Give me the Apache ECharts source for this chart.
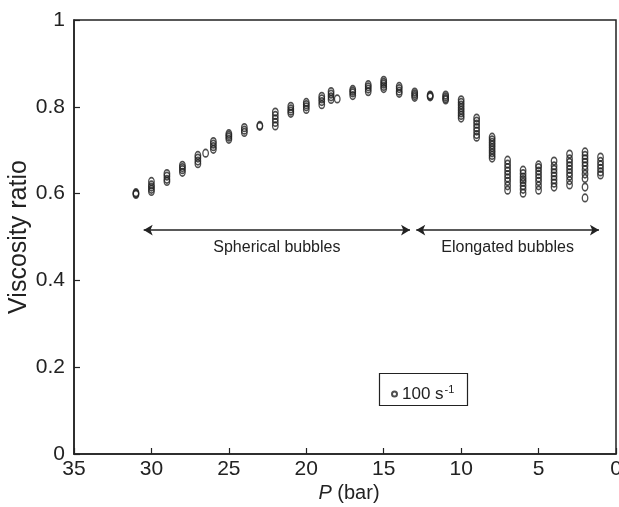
<!DOCTYPE html>
<html>
<head>
<meta charset="utf-8">
<script src="https://cdn.jsdelivr.net/npm/echarts@6/dist/echarts.min.js"></script>
<style>
  html, body { margin: 0; padding: 0; background: #fff; }
  #chart { width: 619px; height: 507px; }
</style>
</head>
<body>
<div id="chart"></div>
<script>
// Pressure (bar) at which each group of measurements was taken
const pressure = [31, 30, 29, 28, 27, 26.5, 26, 25, 24, 23, 22, 21, 20, 19, 18.4, 18,
                  17, 16, 15, 14, 13, 12, 11, 10, 9, 8, 7, 6, 5, 4, 3, 2, 1];

// Viscosity ratio readings at each pressure (shear rate 100 s^-1)
const ratio = [
  [0.598, 0.600, 0.602],
  [0.605, 0.610, 0.615, 0.620, 0.628],
  [0.628, 0.633, 0.640, 0.646],
  [0.649, 0.655, 0.660, 0.665],
  [0.669, 0.675, 0.682, 0.688],
  [0.693],
  [0.702, 0.708, 0.714, 0.720],
  [0.725, 0.730, 0.734, 0.738],
  [0.741, 0.746, 0.752],
  [0.755, 0.757],
  [0.756, 0.764, 0.772, 0.780, 0.788],
  [0.785, 0.790, 0.795, 0.801],
  [0.794, 0.800, 0.805, 0.810],
  [0.805, 0.812, 0.818, 0.824],
  [0.817, 0.823, 0.829, 0.835],
  [0.818],
  [0.826, 0.832, 0.836, 0.840],
  [0.835, 0.841, 0.846, 0.851],
  [0.842, 0.847, 0.852, 0.856, 0.861],
  [0.831, 0.836, 0.842, 0.847],
  [0.822, 0.826, 0.830, 0.834],
  [0.823, 0.825, 0.827],
  [0.816, 0.819, 0.823, 0.827],
  [0.774, 0.780, 0.786, 0.792, 0.798, 0.804, 0.810, 0.816],
  [0.730, 0.736, 0.744, 0.752, 0.760, 0.767, 0.774],
  [0.682, 0.688, 0.694, 0.700, 0.706, 0.712, 0.718, 0.724, 0.730],
  [0.608, 0.618, 0.628, 0.636, 0.644, 0.652, 0.660, 0.668, 0.677],
  [0.601, 0.610, 0.618, 0.626, 0.632, 0.638, 0.646, 0.654],
  [0.608, 0.618, 0.628, 0.636, 0.644, 0.652, 0.660, 0.666],
  [0.615, 0.624, 0.632, 0.640, 0.648, 0.656, 0.664, 0.675],
  [0.620, 0.630, 0.640, 0.648, 0.656, 0.664, 0.672, 0.680, 0.691],
  [0.590, 0.615, 0.635, 0.645, 0.655, 0.664, 0.672, 0.680, 0.688, 0.696],
  [0.643, 0.650, 0.658, 0.666, 0.674, 0.684]
];

// Regime annotations: [from P, to P, ratio level, label]
const regimes = [
  [30.5, 13.3, 0.516, 'Spherical bubbles'],
  [12.9, 1.1, 0.516, 'Elongated bubbles']
];

const seriesName = '100 s-1';

const points = [];
pressure.forEach((p, i) => ratio[i].forEach(v => points.push([p, v])));

const ink = '#222';
const font = '"Liberation Sans", Arial, Helvetica, sans-serif';

const chart = echarts.init(document.getElementById('chart'), null, { renderer: 'canvas' });

chart.setOption({
  animation: false,
  backgroundColor: '#fff',
  textStyle: { fontFamily: font, color: ink },
  grid: {
    left: 74, right: 3, top: 20, bottom: 53,
    containLabel: false,
    outerBoundsMode: 'none',
    show: true, borderColor: ink, borderWidth: 1.5, backgroundColor: 'transparent'
  },
  xAxis: {
    type: 'value',
    min: 0, max: 35, interval: 5,
    inverse: true,
    position: 'bottom',
    name: '{i|P} (bar)',
    nameLocation: 'middle',
    nameGap: 29,
    nameMoveOverlap: false,
    nameTextStyle: {
      fontSize: 20, color: ink, fontFamily: font, padding: [0, 0, 0, 8],
      rich: { i: { fontStyle: 'italic', fontSize: 20, fontFamily: font, color: ink } }
    },
    axisLine: { onZero: false, lineStyle: { color: ink, width: 1.5 } },
    axisTick: { inside: true, length: 6, lineStyle: { color: ink, width: 1.2 } },
    axisLabel: { fontSize: 21, color: ink, margin: 5, fontFamily: font },
    splitLine: { show: false }
  },
  yAxis: {
    type: 'value',
    min: 0, max: 1, interval: 0.2,
    position: 'left',
    name: 'Viscosity ratio',
    nameLocation: 'middle',
    nameGap: 42,
    nameMoveOverlap: false,
    nameTextStyle: { fontSize: 25, color: ink, fontFamily: font },
    axisLine: { onZero: false, lineStyle: { color: ink, width: 1.5 } },
    axisTick: { inside: true, length: 6, lineStyle: { color: ink, width: 1.2 } },
    axisLabel: { fontSize: 21, color: ink, margin: 9, fontFamily: font },
    splitLine: { show: false }
  },
  legend: {
    left: 386, top: 379,
    itemWidth: 5, itemHeight: 8, itemGap: 4,
    icon: 'circle',
    data: [seriesName],
    formatter: () => '100 s{sup|-1}',
    textStyle: {
      fontSize: 17, color: ink, fontFamily: font,
      rich: { sup: { fontSize: 11, verticalAlign: 'top', padding: [0, 0, 9, 1], fontFamily: font, color: ink } }
    }
  },
  graphic: [{
    type: 'rect',
    shape: { x: 379.5, y: 373.5, width: 88, height: 32 },
    style: { fill: 'none', stroke: ink, lineWidth: 1.2 },
    silent: true
  }],
  series: [{
    name: seriesName,
    type: 'scatter',
    symbol: 'circle',
    symbolSize: [5.5, 7.5],
    itemStyle: { color: 'rgba(255,255,255,0)', borderColor: '#222', borderWidth: 1.5 },
    data: points,
    markLine: {
      silent: true,
      symbol: ['arrow', 'arrow'],
      symbolSize: [8, 9],
      lineStyle: { color: ink, width: 1.5, type: 'solid' },
      label: {
        show: true,
        position: 'insideMiddleBottom',
        distance: 10,
        fontSize: 16,
        color: ink,
        fontFamily: font,
        formatter: p => p.name
      },
      data: regimes.map(r => [
        { name: r[3], coord: [r[0], r[2]] },
        { coord: [r[1], r[2]] }
      ])
    }
  }]
});
</script>
</body>
</html>
